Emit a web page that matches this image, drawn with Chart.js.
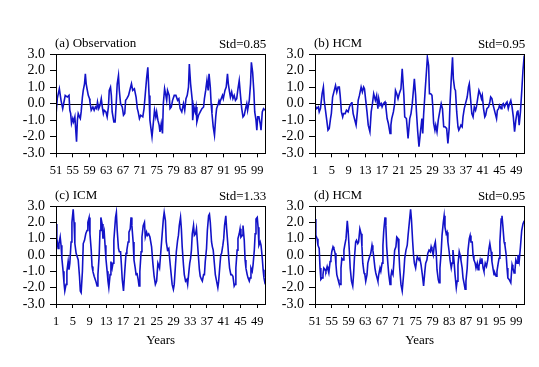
<!DOCTYPE html>
<html>
<head>
<meta charset="utf-8">
<script src="https://cdn.jsdelivr.net/npm/chart.js@4.4.1/dist/chart.umd.min.js"></script>
<style>
  html, body { margin: 0; padding: 0; background: #fff; }
  #wrap { position: relative; width: 539px; height: 367px; overflow: hidden; }
  canvas { position: absolute; }
</style>
</head>
<body>
<div id="wrap">
  <canvas id="ca" width="270" height="183" style="left:0;top:0"></canvas>
  <canvas id="cb" width="269" height="183" style="left:270px;top:0"></canvas>
  <canvas id="cc" width="270" height="184" style="left:0;top:183px"></canvas>
  <canvas id="cd" width="269" height="184" style="left:270px;top:183px"></canvas>
</div>
<script>
// ---------------- DATA ----------------
const titles = ['(a) Observation', '(b) HCM', '(c) ICM', '(d) HCM'];
const stdLabels = ['Std=0.85', 'Std=0.95', 'Std=1.33', 'Std=0.95'];
const xAxisLabel = 'Years';
const yTickValues = [-3, -2, -1, 0, 1, 2, 3];
const xTicksObs = [51, 55, 59, 63, 67, 71, 75, 79, 83, 87, 91, 95, 99];
const xTicksModel = [1, 5, 9, 13, 17, 21, 25, 29, 33, 37, 41, 45, 49];

// (a) Observation
const yearsA = [
  51.0,51.3,51.8,52.2,52.6,52.9,53.2,53.7,54.1,54.3,
  54.5,54.7,55.0,55.2,55.5,55.9,56.1,56.3,56.6,56.8,
  57.0,57.3,57.5,57.8,58.0,58.2,58.4,58.7,59.0,59.1,
  59.4,59.8,60.1,60.4,60.7,60.9,61.2,61.5,61.8,62.1,
  62.3,62.5,62.9,63.2,63.5,63.7,64.0,64.2,64.4,64.8,
  65.1,65.4,65.6,65.9,66.1,66.4,66.8,67.1,67.4,67.6,
  67.9,68.3,68.7,69.0,69.3,69.7,70.1,70.4,70.6,70.9,
  71.2,71.7,72.0,72.3,72.6,72.9,73.2,73.4,73.9,74.5,
  74.8,75.0,75.3,75.6,75.8,76.1,76.4,76.6,76.9,77.2,
  77.4,77.6,78.0,78.2,78.5,78.8,79.2,79.6,80.0,80.3,
  80.6,81.0,81.4,81.7,82.0,82.3,82.6,82.8,83.1,83.5,
  83.6,83.9,84.2,84.4,84.6,85.0,85.4,85.8,86.2,86.4,
  86.7,87.0,87.3,87.5,87.8,88.0,88.2,88.5,88.8,89.1,
  89.3,89.7,89.9,90.1,90.4,90.7,90.9,91.3,91.6,91.9,
  92.1,92.4,92.6,92.9,93.2,93.5,93.8,94.1,94.4,94.7,
  95.0,95.3,95.6,95.9,96.3,96.5,96.7,97.1,97.4,97.6,
  97.9,98.2,98.4,98.7,98.9,99.1,99.4,99.7,99.9,100.2,
  100.5,100.9
];
const valuesA = [
  -0.7,0.3,0.9,0.2,-0.3,0.1,0.5,0.4,0.5,-0.4,
  -0.6,-1.2,-0.9,-1.1,-0.8,-2.3,-1.0,-0.6,-0.8,-0.9,
  -0.5,0.4,0.8,1.2,1.8,1.2,0.9,0.5,0.3,0.1,
  -0.4,-0.2,-0.4,-0.2,-0.3,0.1,-0.3,-0.1,0.3,-0.3,
  -0.6,-0.4,-0.5,-0.8,-0.2,0.8,1.0,0.5,-0.5,-1.1,
  -1.1,0.2,1.2,1.7,0.8,0.0,-0.2,-0.7,-0.6,0.2,
  0.3,0.5,0.9,1.2,0.8,0.9,0.4,-0.3,-0.5,-0.9,
  -0.7,-0.8,-0.3,0.6,1.5,2.2,0.5,-1.0,-2.0,-0.4,
  -0.8,-0.5,-1.0,-1.3,-1.7,-1.2,-1.8,0.0,0.9,0.5,
  0.2,0.8,0.5,-0.3,-0.2,0.2,0.5,0.5,0.2,0.3,
  -0.3,-0.5,0.0,-0.4,0.3,0.5,1.0,2.4,1.2,0.2,
  -1.0,-0.2,-0.5,-0.2,-1.1,-0.7,-0.5,-0.3,-0.2,0.3,
  0.8,1.4,0.8,1.8,1.0,0.0,-0.6,-1.4,-1.9,-0.8,
  -0.3,0.0,0.2,0.1,0.3,0.5,0.3,0.8,1.0,1.8,
  1.2,0.7,0.4,0.7,0.3,0.5,0.2,0.3,0.9,1.4,
  0.5,-0.3,-0.8,-0.7,-0.2,0.0,-0.4,0.2,1.2,2.5,
  1.9,0.7,-0.5,-1.0,-1.6,-0.8,-0.8,-1.2,-1.6,-0.5,
  -0.3,-0.4
];

// (b) HCM, years 1-50
const yearsB = [
  1.0,1.4,1.8,2.0,2.3,2.7,3.0,3.2,3.5,3.8,
  4.1,4.4,4.7,4.9,5.2,5.6,5.9,6.2,6.5,6.8,
  7.0,7.3,7.6,7.8,8.2,8.5,8.9,9.2,9.6,9.8,
  10.1,10.4,10.8,11.1,11.3,11.6,12.0,12.3,12.6,12.8,
  13.1,13.4,13.7,14.1,14.4,14.7,15.0,15.4,15.7,16.0,
  16.2,16.5,16.8,17.0,17.3,17.7,17.9,18.2,18.5,18.9,
  19.1,19.3,19.7,20.0,20.2,20.5,20.8,21.1,21.5,21.8,
  22.2,22.4,22.8,23.2,23.6,23.9,24.2,24.5,24.7,25.0,
  25.2,25.5,25.8,26.2,26.5,26.7,26.9,27.3,27.6,27.8,
  28.1,28.3,28.6,28.9,29.1,29.3,29.6,29.8,30.1,30.4,
  30.8,31.1,31.4,31.7,32.0,32.4,32.7,33.0,33.2,33.5,
  33.8,34.0,34.3,34.5,34.8,35.1,35.3,35.5,35.8,36.1,
  36.3,36.6,36.9,37.3,37.6,37.8,38.1,38.4,38.7,39.0,
  39.3,39.5,39.8,40.1,40.4,40.7,40.9,41.2,41.5,41.7,
  42.0,42.4,42.7,42.9,43.2,43.5,43.7,44.0,44.3,44.5,
  44.8,45.0,45.4,45.6,45.9,46.2,46.5,46.8,47.1,47.4,
  47.7,48.0,48.3,48.6,48.9,49.2,49.4,49.7,50.0,50.3,
  50.6,50.9
];
const valuesB = [
  -0.1,-0.3,-0.2,-0.5,-0.3,0.6,1.0,0.2,-0.4,-1.0,
  -1.6,-1.5,-0.9,-0.6,0.4,0.8,1.1,0.7,1.0,1.0,
  0.5,-0.5,-0.8,-0.6,-0.6,-0.4,-0.5,-0.2,0.0,0.1,
  -0.6,-0.9,-1.3,-0.5,0.2,0.5,1.0,0.7,1.0,0.9,
  0.2,-0.5,-1.3,-1.7,-0.5,0.0,0.6,0.2,0.5,-0.3,
  0.3,-0.1,0.0,-0.2,0.0,0.1,-0.2,-0.9,-1.2,-1.8,
  -1.3,-0.9,-0.5,0.0,0.8,0.6,0.3,0.6,0.9,2.1,
  0.5,-0.8,-0.9,-2.1,-0.9,-0.6,0.0,0.9,1.5,0.5,
  -0.5,-1.7,-2.6,-1.6,-0.9,-1.8,-0.7,0.9,2.0,2.8,
  2.3,0.6,0.6,0.5,-0.2,-1.2,-1.6,-1.3,-1.7,-1.0,
  -0.4,0.0,-0.3,-1.4,-1.4,-1.5,-2.4,-1.5,0.0,1.5,
  2.8,1.5,0.9,0.8,-0.5,-1.4,-1.6,-1.5,-1.3,-1.4,
  -0.8,-0.3,0.0,0.4,1.0,1.2,0.3,-0.6,-0.8,-0.2,
  -0.4,-0.2,0.3,0.8,0.6,0.3,0.5,-0.3,-0.8,-0.7,
  -0.3,-0.2,0.1,0.4,0.3,-0.1,-0.3,-0.6,-0.9,-0.4,
  -0.3,-0.1,-0.3,-0.1,0.0,-0.2,0.0,0.1,-0.3,0.0,
  0.2,-0.2,-0.8,-1.7,-1.0,-0.5,-0.4,-1.3,-0.5,0.7,
  2.0,2.9
];

// (c) ICM, years 1-50
const yearsC = [
  1.0,1.2,1.5,1.7,2.0,2.2,2.4,2.7,2.9,3.1,
  3.4,3.6,3.9,4.1,4.3,4.6,4.8,5.1,5.3,5.5,
  5.8,6.0,6.3,6.6,6.8,7.0,7.3,7.5,7.8,8.1,
  8.4,8.6,8.9,9.1,9.4,9.6,9.8,10.1,10.3,10.5,
  10.8,11.0,11.3,11.5,11.7,12.0,12.2,12.5,12.7,12.9,
  13.2,13.4,13.6,13.9,14.1,14.4,14.6,14.8,15.2,15.4,
  15.6,15.9,16.1,16.4,16.6,16.8,17.1,17.4,17.7,17.9,
  18.2,18.4,18.7,18.9,19.1,19.4,19.6,19.9,20.1,20.3,
  20.6,20.8,21.0,21.3,21.5,21.8,22.1,22.3,22.6,22.8,
  23.1,23.4,23.8,24.1,24.4,24.7,25.0,25.3,25.7,26.0,
  26.3,26.6,26.8,27.1,27.3,27.6,27.9,28.1,28.4,28.7,
  29.0,29.2,29.5,29.7,30.0,30.2,30.4,30.7,30.9,31.1,
  31.4,31.6,31.9,32.2,32.4,32.7,32.9,33.1,33.3,33.5,
  33.8,34.0,34.3,34.5,34.7,35.0,35.2,35.4,35.7,35.9,
  36.2,36.4,36.6,36.9,37.1,37.4,37.6,37.8,38.1,38.3,
  38.5,38.8,39.0,39.3,39.6,39.8,40.1,40.3,40.5,40.8,
  41.0,41.2,41.5,41.7,42.0,42.2,42.4,42.7,42.9,43.2,
  43.5,43.7,43.9,44.2,44.4,44.7,44.9,45.1,45.4,45.6,
  45.9,46.1,46.3,46.6,46.8,47.1,47.3,47.5,47.8,48.0,
  48.3,48.5,48.7,49.0,49.2,49.4,49.7,49.9,50.2,50.4,
  50.6,50.9
];
const valuesC = [
  1.9,1.0,0.4,0.7,1.1,0.6,-0.2,-1.0,-1.7,-2.2,
  -1.8,-1.0,-0.4,-0.9,-0.5,0.8,2.0,2.8,2.0,0.7,
  0.1,0.1,-0.3,-1.3,-2.2,-2.3,-1.0,0.7,0.9,1.3,
  1.5,2.0,2.3,1.3,0.3,-0.7,-1.0,-1.3,-1.3,-1.6,
  -1.9,-1.2,0.0,1.5,2.3,1.9,1.0,1.4,0.6,-0.2,
  -1.0,-1.6,-2.0,-1.2,-0.4,-0.8,-0.5,0.9,2.3,2.6,
  1.5,0.4,0.2,0.2,-0.6,-1.5,-2.2,-1.0,0.1,0.3,
  0.8,1.4,1.6,2.3,1.8,0.8,-0.3,-0.8,-1.2,-1.1,
  -1.5,-1.9,-1.0,0.2,1.1,1.8,2.0,1.1,1.4,1.2,
  1.3,1.1,0.5,-0.5,-1.3,-1.8,-1.6,-0.5,-0.8,0.2,
  1.2,2.2,2.6,2.1,0.8,0.3,0.4,-0.2,-1.0,-1.8,
  -2.1,-1.8,-0.6,0.2,0.9,1.2,1.8,2.3,1.6,0.5,
  -0.6,-1.2,-1.6,-1.5,-1.8,-1.0,-0.5,-0.2,0.3,1.3,
  1.8,1.2,1.3,1.6,0.9,-0.2,-0.9,-1.3,-1.5,-1.6,
  -1.2,-1.2,-0.4,0.4,1.5,2.4,2.5,2.0,0.8,0.5,
  0.3,-0.6,-1.2,-1.6,-2.0,-1.6,-0.6,0.0,0.1,0.6,
  1.0,1.8,2.4,1.6,0.6,-0.2,-0.8,-1.2,-1.2,-1.3,
  -1.9,-1.8,-0.8,0.3,1.0,1.3,1.6,1.1,1.2,1.8,
  0.9,-0.3,-0.8,-1.2,-1.4,-1.6,-1.4,-0.8,-1.0,-0.6,
  0.3,1.3,2.2,2.3,1.7,0.6,0.8,0.6,-0.2,-0.9,
  -1.4,-1.8
];

// (d) HCM, years 51-100
const yearsD = [
  51.0,51.2,51.5,51.7,52.0,52.2,52.4,52.7,52.9,53.1,
  53.4,53.6,53.9,54.1,54.3,54.6,54.8,55.0,55.3,55.5,
  55.8,56.0,56.2,56.5,56.7,57.0,57.2,57.4,57.7,57.9,
  58.1,58.4,58.7,58.9,59.2,59.4,59.7,60.0,60.2,60.4,
  60.7,60.9,61.2,61.4,61.7,62.0,62.2,62.4,62.7,62.9,
  63.1,63.4,63.6,63.9,64.1,64.3,64.6,64.8,65.0,65.3,
  65.5,65.8,66.0,66.2,66.5,66.7,67.0,67.2,67.4,67.7,
  67.9,68.1,68.4,68.6,68.9,69.1,69.3,69.6,69.8,70.0,
  70.3,70.5,70.8,71.0,71.2,71.5,71.8,72.2,72.4,72.7,
  73.0,73.2,73.5,73.8,74.0,74.3,74.5,74.7,75.0,75.2,
  75.4,75.8,76.0,76.3,76.6,76.9,77.2,77.4,77.7,77.9,
  78.2,78.5,78.7,78.9,79.2,79.4,79.7,79.9,80.1,80.4,
  80.6,80.8,81.1,81.3,81.6,81.8,82.0,82.3,82.5,82.7,
  83.0,83.2,83.5,83.7,83.9,84.2,84.4,84.7,84.9,85.1,
  85.4,85.6,85.8,86.1,86.3,86.6,86.8,87.0,87.3,87.5,
  87.8,88.0,88.2,88.5,88.7,88.9,89.2,89.4,89.7,89.9,
  90.1,90.4,90.6,90.8,91.1,91.3,91.6,91.9,92.2,92.5,
  92.7,93.0,93.2,93.5,93.7,93.9,94.2,94.4,94.7,94.9,
  95.1,95.4,95.6,95.8,96.1,96.3,96.6,96.8,97.0,97.3,
  97.5,97.7,98.0,98.2,98.5,98.7,98.9,99.2,99.4,99.7,
  100.0,100.3,100.6,100.9
];
const valuesD = [
  2.2,1.2,1.0,0.6,0.4,-0.8,-1.5,-1.4,-1.2,-0.8,
  -0.9,-1.0,-0.7,-0.9,-1.1,-0.4,-0.2,0.2,0.5,0.4,
  0.1,-0.6,-1.2,-1.5,-1.7,-1.8,-0.8,-0.2,-0.3,0.3,
  0.6,1.0,2.1,1.5,0.2,-0.8,-1.6,-1.9,-1.2,-0.2,
  0.8,0.9,0.7,0.8,1.6,1.3,0.5,-0.5,-1.1,-1.2,
  -1.6,-1.2,-0.5,-0.2,-0.2,0.1,0.6,0.3,-0.1,-0.8,
  -1.1,-1.4,-1.6,-1.2,-0.8,-1.0,-0.5,0.6,1.5,2.3,
  1.8,0.5,-0.6,-1.2,-1.8,-1.3,-1.0,-1.2,-0.5,0.3,
  0.5,1.1,1.0,0.2,-0.8,-1.8,-2.2,-1.0,-0.2,0.3,
  0.6,1.2,2.0,2.8,2.2,0.8,0.0,-0.5,-0.8,-0.4,
  -0.1,-0.3,-0.2,-0.6,-1.2,-1.9,-1.0,-0.5,-0.3,0.1,
  0.3,0.2,0.5,0.3,0.0,0.5,0.8,0.2,-0.9,-1.5,
  -1.7,-0.8,0.2,1.2,2.0,2.4,1.7,1.3,1.4,0.8,
  0.2,-0.3,-0.8,-0.5,0.3,-0.5,-1.2,-2.0,-1.6,-0.6,
  0.2,0.0,-0.3,-0.8,-1.4,-1.8,-2.1,-1.6,-0.8,0.3,
  1.0,1.2,0.8,0.8,0.0,-0.3,-0.5,-0.8,-0.5,-0.9,
  -0.7,-0.3,-0.5,-0.2,-0.8,-1.0,-0.5,-0.7,-0.3,0.4,
  0.7,0.2,-0.4,-0.9,-1.2,-1.1,-1.3,-1.0,-0.5,-0.2,
  0.8,2.2,2.4,1.8,0.8,0.6,0.0,-0.8,-1.4,-1.5,
  -1.5,-1.7,-0.6,-0.8,-1.1,-0.9,-0.3,-0.5,0.0,-0.4,
  0.5,1.5,1.9,2.1
];

// ---------------- CHART SETUP ----------------
const FONT = '"Liberation Serif", "Times New Roman", serif';
const LINE_COLOR = '#1212c8';

const decor = {
  id: 'decor',
  beforeDatasetsDraw(chart, args, o) {
    const {ctx, chartArea: a, scales: {y}} = chart;
    const y0 = Math.round(y.getPixelForValue(0)) + 0.5;
    ctx.save();
    ctx.strokeStyle = '#000';
    ctx.lineWidth = 1;
    ctx.beginPath();
    ctx.moveTo(a.left, y0);
    ctx.lineTo(a.right, y0);
    ctx.stroke();
    ctx.restore();
  },
  afterDraw(chart, args, o) {
    const {ctx, chartArea: a} = chart;
    ctx.save();
    ctx.strokeStyle = '#000';
    ctx.lineWidth = 1;
    ctx.strokeRect(Math.round(a.left) + 0.5, Math.round(a.top) + 0.5,
                   Math.round(a.right) - Math.round(a.left), Math.round(a.bottom) - Math.round(a.top));
    ctx.fillStyle = '#000';
    ctx.font = '13px ' + FONT;
    ctx.textBaseline = 'alphabetic';
    ctx.textAlign = 'left';
    ctx.fillText(o.title, a.left - 1, a.top - 7);
    ctx.textAlign = 'right';
    ctx.fillText(o.std, a.right + 1, a.top - 6);
    if (o.xlabel) {
      ctx.textAlign = 'center';
      ctx.fillText(o.xlabel, (a.left + a.right) / 2, a.bottom + 40);
    }
    ctx.restore();
  }
};

function makePanel(id, canvasW, canvasH, area, years, values, xMin, xMax, xTicks, title, std, xlabel) {
  const n = Math.min(years.length, values.length);
  const pts = [];
  for (let i = 0; i < n; i++) pts.push({x: years[i], y: values[i]});
  new Chart(document.getElementById(id), {
    type: 'line',
    data: { datasets: [{ data: pts, borderColor: LINE_COLOR, borderWidth: 1.6, pointRadius: 0, tension: 0, fill: false }] },
    options: {
      responsive: false,
      animation: false,
      events: [],
      layout: { padding: { left: 0, top: area.t, right: canvasW - area.r, bottom: 0 } },
      plugins: {
        legend: { display: false },
        tooltip: { enabled: false },
        title: { display: false },
        decor: { title: title, std: std, xlabel: xlabel }
      },
      scales: {
        x: {
          type: 'linear',
          min: xMin, max: xMax,
          afterFit: s => { s.height = canvasH - area.b; },
          afterBuildTicks: s => { s.ticks = xTicks.map(v => ({value: v})); },
          border: { display: false },
          grid: { display: true, drawOnChartArea: false, drawTicks: true, tickLength: 4, tickColor: '#000', tickWidth: 1 },
          ticks: { autoSkip: false, maxRotation: 0, padding: 6, color: '#000', font: { family: FONT, size: 12.5 }, callback: v => String(v) }
        },
        y: {
          min: -3, max: 3,
          afterFit: s => { s.width = area.l; },
          afterBuildTicks: s => { s.ticks = yTickValues.map(v => ({value: v})); },
          border: { display: false },
          grid: { display: true, drawOnChartArea: false, drawTicks: true, tickLength: 6, tickColor: '#000', tickWidth: 1 },
          ticks: { autoSkip: false, padding: 5, color: '#000', font: { family: FONT, size: 14 }, callback: v => Number(v).toFixed(1) }
        }
      }
    },
    plugins: [decor]
  });
}

// canvas-local chart areas
makePanel('ca', 270, 183, {l: 56, t: 54, r: 265.3, b: 153.3}, yearsA, valuesA, 51, 100.92, xTicksObs, titles[0], stdLabels[0], null);
makePanel('cb', 269, 183, {l: 45, t: 54, r: 254.3, b: 153.3}, yearsB, valuesB, 1, 50.92, xTicksModel, titles[1], stdLabels[1], null);
makePanel('cc', 270, 184, {l: 56, t: 23, r: 265.3, b: 121}, yearsC, valuesC, 1, 50.92, xTicksModel, titles[2], stdLabels[2], xAxisLabel);
makePanel('cd', 269, 184, {l: 45, t: 23, r: 254.3, b: 121}, yearsD, valuesD, 51, 100.92, xTicksObs, titles[3], stdLabels[3], xAxisLabel);
</script>
</body>
</html>
